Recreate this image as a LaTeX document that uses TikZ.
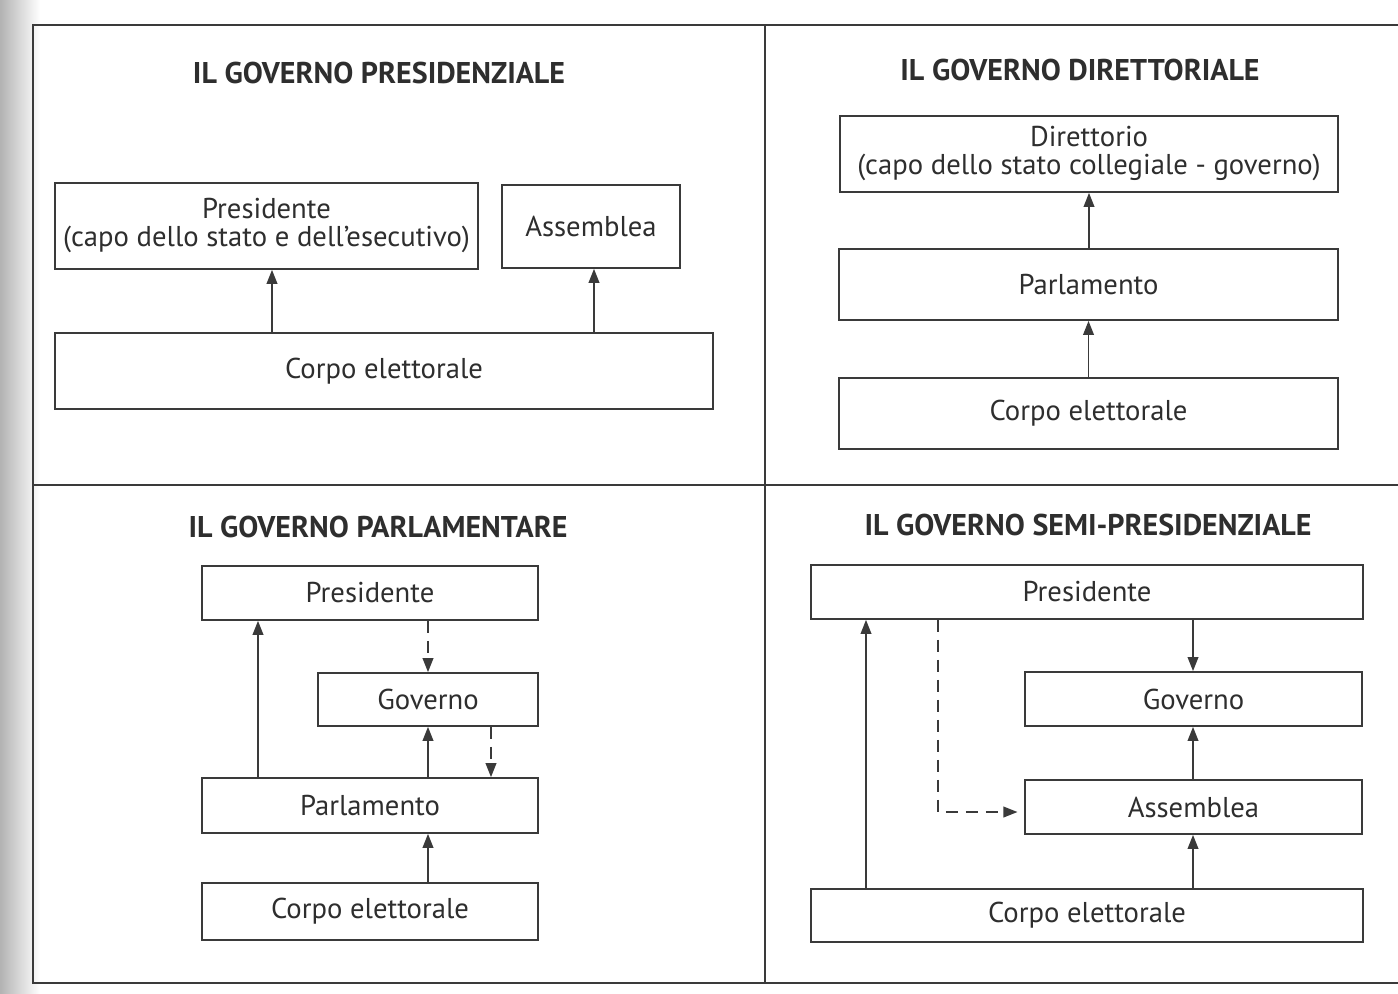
\documentclass[tikz,border=0pt]{standalone}
\usepackage{fontspec}
\setmainfont{PT Sans}
\usetikzlibrary{arrows.meta,fit,calc}
\definecolor{ink}{HTML}{2E2E2E}
\definecolor{lin}{HTML}{3A3A3A}
\tikzset{
  box/.style={draw=lin, line width=1.3pt, inner sep=0pt},
  lbl/.style={text=ink, font=\fontsize{21.5}{21}\selectfont, align=center, inner sep=0pt},
  ttl/.style={text=ink, font=\bfseries\fontsize{22.5}{26}\selectfont},
  arr/.style={draw=lin, line width=1.2pt, -{Triangle[length=10.5pt,width=8pt]}},
  darr/.style={arr, dash pattern=on 9pt off 6pt},
  frame/.style={draw=lin, line width=1.4pt}
}
\begin{document}
\begin{tikzpicture}[x=0.75pt,y=-0.75pt]
\useasboundingbox (0,0) rectangle (1398,994);
\fill[white] (0,0) rectangle (1398,994);
\shade[left color=black!30, right color=white] (0,0) rectangle (40,994);
% frame
\draw[frame] (1398,25) -- (33,25) -- (33,983) -- (1398,983);
\draw[frame] (765,25) -- (765,983);
\draw[frame] (33,485) -- (1398,485);

% ---- Panel 1
\node[ttl] (t1) at (379,73) {IL GOVERNO PRESIDENZIALE};
\node[box, fit={(55,183) (478,269)}] (p1pres) {};
\node[lbl] (l1pres) at (p1pres.center) {Presidente\\(capo dello stato e dell’esecutivo)};
\node[box, fit={(502,185) (680,268)}] (p1ass) {};
\node[lbl] (l1ass) at (p1ass.center) {Assemblea};
\node[box, fit={(55,333) (713,409)}] (p1corpo) {};
\node[lbl] (l1corpo) at (p1corpo.center) {Corpo elettorale};
\coordinate (x272) at (272,0);
\coordinate (x594) at (594,0);
\draw[arr] (p1corpo.north -| x272) -- (p1pres.south -| x272);
\draw[arr] (p1corpo.north -| x594) -- (p1ass.south -| x594);

% ---- Panel 2
\node[ttl] (t2) at (1080,70) {IL GOVERNO DIRETTORIALE};
\node[box, fit={(840,116) (1338,192)}] (p2dir) {};
\node[lbl] (l2dir) at (p2dir.center) {Direttorio\\(capo dello stato collegiale - governo)};
\node[box, fit={(839,249) (1338,320)}] (p2parl) {};
\node[lbl] (l2parl) at (p2parl.center) {Parlamento};
\node[box, fit={(839,378) (1338,449)}] (p2corpo) {};
\node[lbl] (l2corpo) at (p2corpo.center) {Corpo elettorale};
\draw[arr] (p2parl.north -| p2dir.south) -- (p2dir.south);
\draw[arr] (p2corpo.north) -- (p2parl.south);

% ---- Panel 3
\node[ttl] (t3) at (378,527) {IL GOVERNO PARLAMENTARE};
\node[box, fit={(202,566) (538,620)}] (p3pres) {};
\node[lbl] (l3pres) at (p3pres.center) {Presidente};
\node[box, fit={(318,673) (538,726)}] (p3gov) {};
\node[lbl] (l3gov) at (p3gov.center) {Governo};
\node[box, fit={(202,778) (538,833)}] (p3parl) {};
\node[lbl] (l3parl) at (p3parl.center) {Parlamento};
\node[box, fit={(202,883) (538,940)}] (p3corpo) {};
\node[lbl] (l3corpo) at (p3corpo.center) {Corpo elettorale};
\coordinate (x258) at (258,0);
\coordinate (x428) at (428,0);
\coordinate (x491) at (491,0);
\draw[arr] (p3parl.north -| x258) -- (p3pres.south -| x258);
\draw[darr] (p3pres.south -| x428) -- (p3gov.north -| x428);
\draw[arr] (p3parl.north -| x428) -- (p3gov.south -| x428);
\draw[darr] (p3gov.south -| x491) -- (p3parl.north -| x491);
\draw[arr] (p3corpo.north -| x428) -- (p3parl.south -| x428);

% ---- Panel 4
\node[ttl] (t4) at (1088,525) {IL GOVERNO SEMI-PRESIDENZIALE};
\node[box, fit={(811,565) (1363,619)}] (p4pres) {};
\node[lbl] (l4pres) at (p4pres.center) {Presidente};
\node[box, fit={(1025,672) (1362,726)}] (p4gov) {};
\node[lbl] (l4gov) at (p4gov.center) {Governo};
\node[box, fit={(1025,780) (1362,834)}] (p4ass) {};
\node[lbl] (l4ass) at (p4ass.center) {Assemblea};
\node[box, fit={(811,889) (1363,942)}] (p4corpo) {};
\node[lbl] (l4corpo) at (p4corpo.center) {Corpo elettorale};
\coordinate (x866) at (866,0);
\coordinate (x938) at (938,0);
\coordinate (x1193) at (1193,0);
\coordinate (bend) at (938,812);
\draw[arr] (p4corpo.north -| x866) -- (p4pres.south -| x866);
\draw[darr] (p4pres.south -| x938) -- (bend) -- ([xshift=-5pt]p4ass.west |- bend);
\draw[arr] (p4pres.south -| x1193) -- (p4gov.north -| x1193);
\draw[arr] (p4ass.north -| x1193) -- (p4gov.south -| x1193);
\draw[arr] (p4corpo.north -| x1193) -- (p4ass.south -| x1193);
\end{tikzpicture}
\end{document}
